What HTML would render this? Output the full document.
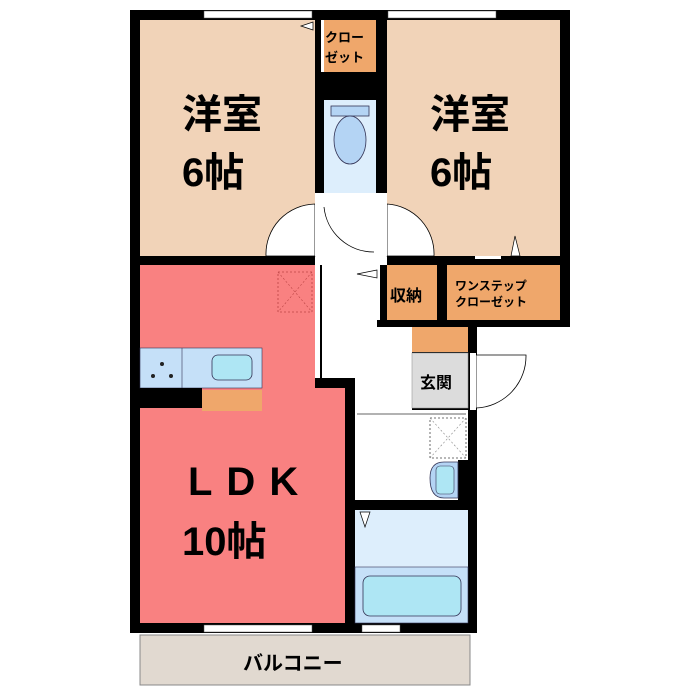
<!DOCTYPE html>
<html><head><meta charset="utf-8"><style>
body{margin:0;background:#fff}
svg{display:block}
text{font-family:"Liberation Sans","Noto Sans CJK JP",sans-serif;font-weight:bold;fill:#000}
</style></head><body>
<svg width="700" height="700" viewBox="0 0 700 700" xmlns="http://www.w3.org/2000/svg">
<!-- black wall mass -->
<rect x="130" y="10" width="440" height="255" fill="#000"/>
<rect x="130" y="255" width="225" height="378" fill="#000"/>
<rect x="376" y="255" width="194" height="72" fill="#000"/>
<rect x="345" y="378" width="132" height="255" fill="#000"/>
<rect x="410" y="325" width="67" height="100" fill="#000"/>
<!-- rooms -->
<rect x="140" y="20" width="175" height="236" fill="#f1d3b8"/>
<rect x="387" y="20" width="173" height="236" fill="#f1d3b8"/>
<rect x="324" y="20" width="52" height="52" fill="#efa76b"/>
<rect x="321" y="20" width="3" height="52" fill="#fff"/>
<rect x="324" y="100" width="52" height="93" fill="#ddeefc"/>
<rect x="331" y="106" width="38" height="10" fill="#b4d4f4" stroke="#335" stroke-width="0.8"/>
<ellipse cx="350" cy="140" rx="16" ry="24" fill="#b4d4f4" stroke="#335" stroke-width="0.8"/>
<!-- corridor -->
<rect x="315" y="193" width="72" height="72" fill="#fff"/>
<rect x="322" y="256" width="55" height="122" fill="#fff"/>
<rect x="355" y="327" width="57" height="83" fill="#fff"/>
<rect x="322" y="327" width="90" height="51" fill="#fff"/>
<!-- doors -->
<path d="M266 256 A50 50 0 0 1 315 204 L315 256Z" fill="#fff" stroke="#000" stroke-width="0.8"/>
<path d="M387 204 A50 50 0 0 1 434 256 L387 256Z" fill="#fff" stroke="#000" stroke-width="0.8"/>
<path d="M324 207 A50 50 0 0 0 374 252" fill="none" stroke="#000" stroke-width="0.8"/>
<rect x="315" y="200" width="3" height="56" fill="#fff"/>
<rect x="384" y="200" width="3" height="56" fill="#fff"/>
<!-- LDK -->
<path d="M140 265 H315 V388 H345 V623 H140Z" fill="#f98181"/>
<rect x="315" y="265" width="5" height="113" fill="#fff"/>
<rect x="278" y="272" width="34" height="40" fill="none" stroke="#b44" stroke-width="0.8" stroke-dasharray="2,2"/>
<path d="M278 272 L312 312 M312 272 L278 312" stroke="#b44" stroke-width="0.6" stroke-dasharray="2,2"/>
<rect x="140" y="348" width="122" height="40" fill="#c5e0f8" stroke="#335" stroke-width="0.6"/>
<line x1="182" y1="348" x2="182" y2="388" stroke="#335" stroke-width="0.6"/>
<rect x="212" y="355" width="40" height="25" rx="6" fill="#aee6f4" stroke="#335" stroke-width="0.8"/>
<circle cx="162" cy="364" r="2" fill="#222"/><circle cx="153" cy="376" r="2" fill="#222"/><circle cx="171" cy="376" r="2" fill="#222"/>
<rect x="140" y="388" width="62" height="20" fill="#000"/>
<rect x="202" y="390" width="60" height="21" fill="#efa76b"/>
<!-- storages -->
<rect x="387" y="265" width="50" height="55" fill="#efa76b"/>
<rect x="447" y="265" width="113" height="55" fill="#efa76b"/>
<rect x="377" y="258" width="3" height="62" fill="#fff"/>
<rect x="475" y="256" width="26" height="3" fill="#fff"/>
<path d="M511 256 L520 256 L515 236Z" fill="#fff" stroke="#000" stroke-width="0.7"/>
<path d="M301 26 L313 30 L313 22Z" fill="#fff" stroke="#000" stroke-width="0.7"/>
<path d="M377 270 L357 274 L377 278Z" fill="#fff" stroke="#000" stroke-width="0.7"/>
<!-- entrance -->
<rect x="412" y="327" width="56" height="25" fill="#efa76b"/>
<rect x="412" y="353" width="56" height="55" fill="#dcdcdc" stroke="#999" stroke-width="0.6"/>
<path d="M476 355 L526 355 A52 52 0 0 1 476 408Z" fill="#fff" stroke="#000" stroke-width="0.8"/>
<rect x="470" y="353" width="6" height="57" fill="#fff"/>
<!-- washroom -->
<rect x="355" y="410" width="113" height="90" fill="#fff"/>
<line x1="357" y1="414" x2="466" y2="414" stroke="#666" stroke-width="1"/>
<rect x="430" y="418" width="36" height="40" fill="none" stroke="#444" stroke-width="0.8" stroke-dasharray="2,2"/>
<path d="M430 418 L466 458 M466 418 L430 458" stroke="#888" stroke-width="0.6" stroke-dasharray="2,2"/>
<rect x="458" y="460" width="10" height="40" fill="#000"/>
<path d="M458 462 H444 Q430 462 430 478 Q430 498 444 498 H458Z" fill="#b4d4f4" stroke="#335" stroke-width="0.8"/>
<rect x="436" y="466" width="18" height="28" rx="4" fill="#aee6f4" stroke="#335" stroke-width="0.6"/>
<rect x="411" y="500" width="57" height="10" fill="#000"/>
<rect x="355" y="510" width="113" height="113" fill="#ddeefc"/>
<rect x="355" y="567" width="113" height="56" fill="#c5e0f8" stroke="#335" stroke-width="0.6"/>
<rect x="363" y="576" width="98" height="40" rx="7" fill="#aee6f4" stroke="#335" stroke-width="0.8"/>
<path d="M360 512 L370 512 L365 527Z" fill="#fff" stroke="#000" stroke-width="0.7"/>
<!-- windows -->
<rect x="204" y="11" width="108" height="7" fill="#fff" stroke="#555" stroke-width="0.5"/>
<rect x="388" y="11" width="108" height="7" fill="#fff" stroke="#555" stroke-width="0.5"/>
<rect x="204" y="625" width="108" height="7" fill="#fff" stroke="#555" stroke-width="0.5"/>
<rect x="362" y="625" width="38" height="7" fill="#fff" stroke="#555" stroke-width="0.5"/>
<!-- balcony -->
<rect x="132" y="633" width="344" height="57" fill="#fff"/>
<rect x="140" y="635" width="330" height="50" fill="#e1d9d0" stroke="#888" stroke-width="1"/>
<!-- labels -->
<text x="182" y="128" font-size="40">洋室</text>
<text x="182" y="186" font-size="40">6帖</text>
<text x="430" y="128" font-size="40">洋室</text>
<text x="430" y="186" font-size="40">6帖</text>
<text x="325" y="42" font-size="13">クロー</text>
<text x="325" y="62" font-size="13">ゼット</text>
<text x="390" y="301" font-size="16">収納</text>
<text x="455" y="290" font-size="12">ワンステップ</text>
<text x="455" y="306" font-size="12">クローゼット</text>
<text x="420" y="388" font-size="16">玄関</text>
<text x="188" y="495" font-size="40" letter-spacing="14">LDK</text>
<text x="182" y="555" font-size="40">10帖</text>
<text x="243" y="670" font-size="20">バルコニー</text>
</svg>
</body></html>
